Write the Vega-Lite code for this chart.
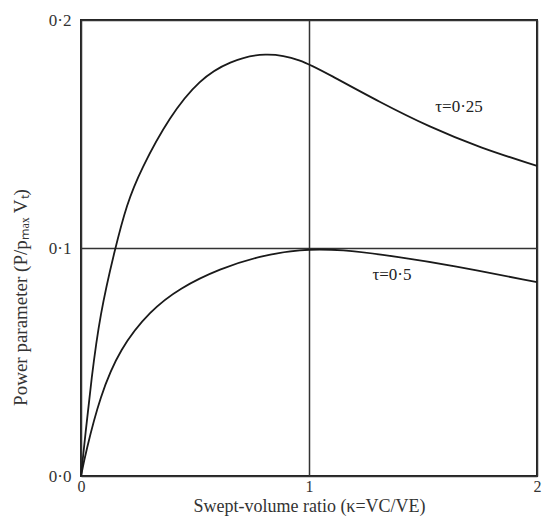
{
  "$schema": "https://vega.github.io/schema/vega-lite/v6.json",
  "width": 456,
  "height": 456,
  "autosize": {"type": "none"},
  "padding": {"left": 81, "top": 20, "right": 5, "bottom": 40},
  "background": "white",
  "config": {
    "view": {"stroke": "#222", "strokeWidth": 2},
    "font": "Liberation Serif"
  },
  "datasets": {
    "curves": [
      {"kappa": 0, "P": 0, "series": "τ=0·25"},
      {"kappa": 0.02, "P": 0.019, "series": "τ=0·25"},
      {"kappa": 0.045, "P": 0.042, "series": "τ=0·25"},
      {"kappa": 0.083, "P": 0.071, "series": "τ=0·25"},
      {"kappa": 0.15, "P": 0.1, "series": "τ=0·25"},
      {"kappa": 0.2, "P": 0.119, "series": "τ=0·25"},
      {"kappa": 0.26, "P": 0.134, "series": "τ=0·25"},
      {"kappa": 0.39, "P": 0.158, "series": "τ=0·25"},
      {"kappa": 0.52, "P": 0.174, "series": "τ=0·25"},
      {"kappa": 0.65, "P": 0.182, "series": "τ=0·25"},
      {"kappa": 0.81, "P": 0.186, "series": "τ=0·25"},
      {"kappa": 0.96, "P": 0.183, "series": "τ=0·25"},
      {"kappa": 1.09, "P": 0.176, "series": "τ=0·25"},
      {"kappa": 1.31, "P": 0.164, "series": "τ=0·25"},
      {"kappa": 1.53, "P": 0.153, "series": "τ=0·25"},
      {"kappa": 1.75, "P": 0.144, "series": "τ=0·25"},
      {"kappa": 2.0, "P": 0.136, "series": "τ=0·25"},
      {"kappa": 0, "P": 0, "series": "τ=0·5"},
      {"kappa": 0.02, "P": 0.01, "series": "τ=0·5"},
      {"kappa": 0.083, "P": 0.035, "series": "τ=0·5"},
      {"kappa": 0.171, "P": 0.056, "series": "τ=0·5"},
      {"kappa": 0.303, "P": 0.0725, "series": "τ=0·5"},
      {"kappa": 0.434, "P": 0.0825, "series": "τ=0·5"},
      {"kappa": 0.61, "P": 0.091, "series": "τ=0·5"},
      {"kappa": 0.785, "P": 0.0965, "series": "τ=0·5"},
      {"kappa": 0.96, "P": 0.0995, "series": "τ=0·5"},
      {"kappa": 1.136, "P": 0.0995, "series": "τ=0·5"},
      {"kappa": 1.4, "P": 0.096, "series": "τ=0·5"},
      {"kappa": 1.62, "P": 0.0925, "series": "τ=0·5"},
      {"kappa": 2.0, "P": 0.085, "series": "τ=0·5"}
    ],
    "labels": [
      {"kappa": 1.658, "P": 0.162, "label": "τ=0·25"},
      {"kappa": 1.364, "P": 0.0882, "label": "τ=0·5"}
    ]
  },
  "layer": [
    {
      "data": {"name": "curves"},
      "mark": {"type": "line", "interpolate": "basis", "color": "#1a1a1a", "strokeWidth": 1.8},
      "encoding": {
        "x": {
          "field": "kappa", "type": "quantitative",
          "scale": {"domain": [0, 2], "nice": false},
          "axis": {
            "values": [0, 1, 2], "grid": true, "gridColor": "#333", "gridWidth": 1.5,
            "ticks": false, "domain": false, "labelPadding": 2,
            "labelExpr": "format(datum.value, '.0f')",
            "labelFontSize": 16, "labelColor": "#333", "labelFont": "Liberation Serif",
            "title": "Swept-volume ratio (κ=VC/VE)", "titleFontSize": 18, "titleFontWeight": "normal",
            "titleColor": "#333", "titleFont": "Liberation Serif", "titlePadding": 3,
            "labelFlush": false
          }
        },
        "y": {
          "field": "P", "type": "quantitative",
          "scale": {"domain": [0, 0.2], "nice": false},
          "axis": {
            "values": [0, 0.1, 0.2], "grid": true, "gridColor": "#333", "gridWidth": 1.5,
            "ticks": false, "domain": false, "labelPadding": 10,
            "labelExpr": "replace(format(datum.value, '.1f'), '.', '·')",
            "labelFontSize": 17, "labelColor": "#333", "labelFont": "Liberation Serif",
            "title": "Power parameter (P/pₘₐₓ Vₜ)", "titleFontSize": 19, "titleFontWeight": "normal",
            "titleColor": "#333", "titleFont": "Liberation Serif", "titlePadding": 18,
            "titleY": 277
          }
        },
        "detail": {"field": "series"}
      }
    },
    {
      "data": {"name": "labels"},
      "mark": {"type": "text", "fontSize": 17, "color": "#222", "font": "Liberation Serif"},
      "encoding": {
        "x": {"field": "kappa", "type": "quantitative"},
        "y": {"field": "P", "type": "quantitative"},
        "text": {"field": "label"}
      }
    }
  ]
}
